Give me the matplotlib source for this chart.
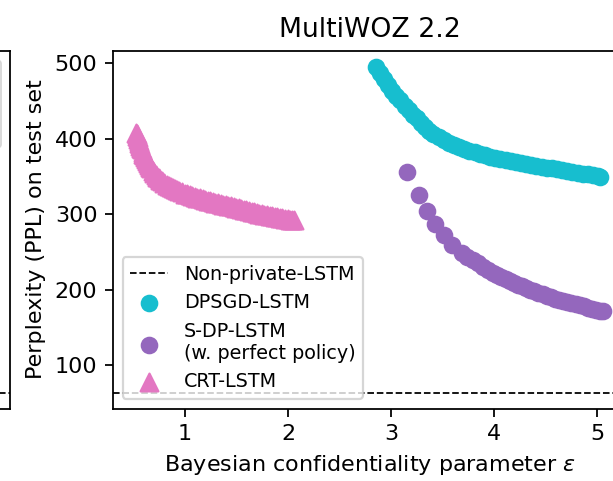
import matplotlib
matplotlib.use("Agg")
import matplotlib.pyplot as plt
from matplotlib.patches import FancyBboxPatch

# values
non_private_ppl = 64

dpsgd_eps = [2.85, 2.89, 2.93, 2.97, 3.01, 3.05, 3.09, 3.13, 3.17, 3.21, 3.25, 3.29,
             3.33, 3.37, 3.41, 3.46, 3.51, 3.56, 3.61, 3.66, 3.71, 3.76, 3.81, 3.86,
             3.91, 3.96, 4.01, 4.06, 4.11, 4.16, 4.21, 4.26, 4.31, 4.36, 4.41, 4.46,
             4.51, 4.56, 4.61, 4.66, 4.71, 4.76, 4.81, 4.86, 4.91, 4.96, 5.01, 5.03]
dpsgd_ppl = [495, 487, 479, 471, 464, 457, 451, 444, 438, 432, 427, 421,
             416, 411, 407, 402, 398, 395, 392, 389, 386, 384, 382, 380,
             378, 376, 374.5, 373, 372, 370.5, 369, 368, 366.5, 365.5, 364.5, 363,
             362, 361, 360, 359, 358, 356.5, 355, 354, 353, 351.5, 350.5, 350]

sdp_eps = [3.157, 3.267, 3.349, 3.43, 3.51, 3.59, 3.69, 3.74, 3.79, 3.84, 3.89, 3.94,
           3.99, 4.03, 4.07, 4.11, 4.15, 4.19, 4.23, 4.27, 4.31, 4.35, 4.39, 4.43,
           4.47, 4.51, 4.55, 4.59, 4.63, 4.67, 4.71, 4.75, 4.79, 4.83, 4.87, 4.91,
           4.95, 4.99, 5.03, 5.054]
sdp_ppl = [356, 326, 304, 287, 273, 259, 249, 244, 239.5, 235, 230.5, 226.5,
           222.5, 219.5, 216.5, 214, 211.5, 209, 207, 204.5, 202.5, 200, 198, 196,
           194, 192, 190.5, 188.5, 187, 185.5, 184, 182.5, 181, 179.5, 178, 176.5,
           175, 173.5, 172.5, 172]

crt_eps = [0.525, 0.53, 0.535, 0.54, 0.545, 0.55, 0.555, 0.56, 0.565, 0.572, 0.58, 0.588,
           0.595, 0.603, 0.61, 0.62, 0.63, 0.64, 0.65, 0.66, 0.67, 0.685, 0.70, 0.715,
           0.73, 0.745, 0.76, 0.78, 0.80, 0.82, 0.84, 0.86, 0.88, 0.90, 0.92, 0.945,
           0.97, 0.995, 1.02, 1.045, 1.07, 1.095, 1.12, 1.145, 1.17, 1.195, 1.22, 1.245,
           1.27, 1.295, 1.32, 1.345, 1.37, 1.395, 1.42, 1.445, 1.47, 1.495, 1.52, 1.545,
           1.57, 1.595, 1.62, 1.645, 1.67, 1.695, 1.72, 1.745, 1.77, 1.795, 1.82, 1.845,
           1.87, 1.895, 1.92, 1.945, 1.97, 1.995, 2.015, 2.035, 2.055]
crt_ppl = [408, 406, 404, 402, 399.5, 397, 395, 393, 391, 388.5, 386, 383,
           380.5, 378, 376, 373, 370.5, 368, 365.5, 363, 361, 358, 355, 352.5,
           350, 348, 346, 343.5, 341.5, 339.5, 338, 336.5, 335, 333.5, 332, 330.5,
           329, 327.5, 326.5, 325, 324, 323, 322, 321, 320, 319, 318, 317.5,
           316.5, 315.5, 314.5, 314, 313, 312, 311, 310.5, 309.5, 308.5, 308, 307,
           306, 305.5, 304.5, 303.5, 303, 302, 301, 300.5, 299.5, 299, 298, 297.5,
           296.5, 296, 295, 294.5, 294, 293.5, 293, 292.5, 292]

fig = plt.figure(figsize=(613 / 160, 481 / 160), dpi=160)

# neighbouring panel, only its right edge is in view
ax0 = fig.add_axes([-0.82, 0.1507, 0.8363, 0.7443])
ax0.axhline(non_private_ppl, color="k", linestyle="--", linewidth=0.8)
ax0.set_ylim(42.8, 517)
ax0.set_xticks([])
ax0.set_yticks([])
frame = FancyBboxPatch((-0.3, 1 - 148 / 481), 0.3 + 1 / 613, 88 / 481,
                       boxstyle="round,pad=0,rounding_size=0.008",
                       transform=fig.transFigure, facecolor="white",
                       edgecolor="0.8", linewidth=0.8, alpha=0.8)
fig.add_artist(frame)

ax = fig.add_axes([0.1843, 0.1507, 0.837, 0.7443])
ax.axhline(non_private_ppl, color="k", linestyle="--", linewidth=0.8, label="Non-private-LSTM")
ax.scatter(dpsgd_eps, dpsgd_ppl, color="tab:cyan", s=48, label="DPSGD-LSTM")
ax.scatter(sdp_eps, sdp_ppl, color="tab:purple", s=48, label="S-DP-LSTM\n(w. perfect policy)")
ax.scatter(crt_eps, crt_ppl, color="tab:pink", marker="^", s=64, label="CRT-LSTM")
ax.set_xlim(0.30, 5.28)
ax.set_ylim(42.8, 517)
ax.set_xticks([1, 2, 3, 4, 5])
ax.set_yticks([100, 200, 300, 400, 500])
ax.set_title("MultiWOZ 2.2")
ax.set_xlabel(r"Bayesian confidentiality parameter $\varepsilon$")
ax.set_ylabel("Perplexity (PPL) on test set")
ax.legend(loc="lower left", fontsize=8.6)

plt.savefig("out.png", dpi=160)
